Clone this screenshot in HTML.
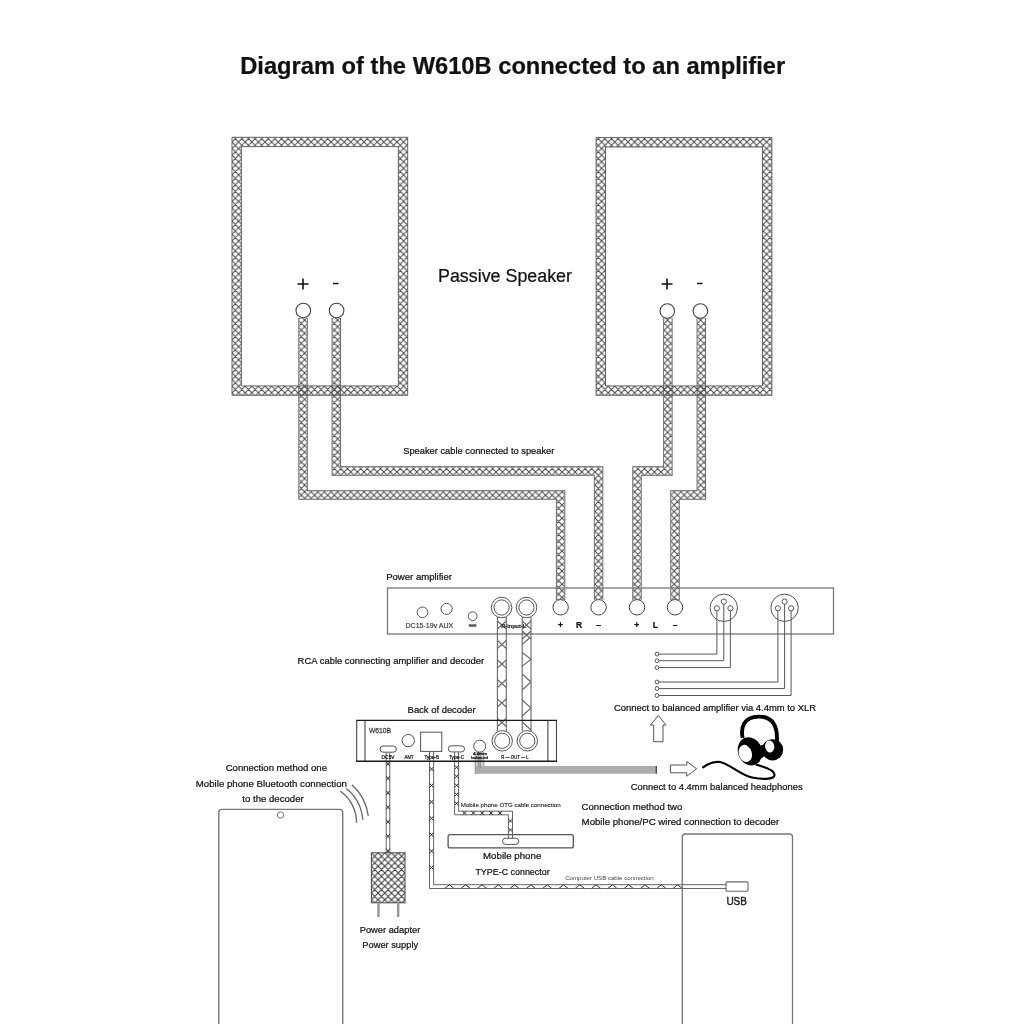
<!DOCTYPE html>
<html><head><meta charset="utf-8">
<style>
html,body{margin:0;padding:0;background:#fff;width:1024px;height:1024px;overflow:hidden}
svg{display:block;will-change:transform}
text{font-family:"Liberation Sans",sans-serif;fill:#111;stroke:#111;stroke-width:0.22px}
</style></head><body>
<svg width="1024" height="1024" viewBox="0 0 1024 1024">
<defs>
<pattern id="hatch" patternUnits="userSpaceOnUse" width="6.6" height="6.6" x="232" y="135.35">
  <path d="M-1,-1 L7.6,7.6 M-1,5.6 L1,7.6 M5.6,-1 L7.6,1 M7.6,-1 L-1,7.6 M-1,1 L1,-1 M5.6,7.6 L7.6,5.6" stroke="#464646" stroke-width="1.0" fill="none"/>
</pattern>
<pattern id="hatch2" patternUnits="userSpaceOnUse" width="6.7" height="6.7" x="371.4" y="852.8">
  <path d="M-1,-1 L7.7,7.7 M-1,5.7 L1,7.7 M5.7,-1 L7.7,1 M7.7,-1 L-1,7.7 M-1,1 L1,-1 M5.7,7.7 L7.7,5.7" stroke="#383838" stroke-width="1.05" fill="none"/>
</pattern>
</defs>
<rect width="1024" height="1024" fill="#fff"/>

<!-- Title -->
<text x="240.2" y="73.9" font-size="23.7" font-weight="700" textLength="545" lengthAdjust="spacingAndGlyphs" style="fill:#111">Diagram of the W610B connected to an amplifier</text>

<!-- speaker cables -->
<g fill="none" stroke-linejoin="miter">
  <path id="c1" d="M303.05,318 V495 H560.6 V600" stroke="#5c5c5c" stroke-width="9.4"/>
  <path d="M303.05,318 V495 H560.6 V600" stroke="#fff" stroke-width="7.6"/>
  <path d="M303.05,318 V495 H560.6 V600" stroke="url(#hatch)" stroke-width="7.6"/>
  <path d="M336.3,318 V471 H598.6 V600" stroke="#5c5c5c" stroke-width="9.4"/>
  <path d="M336.3,318 V471 H598.6 V600" stroke="#fff" stroke-width="7.6"/>
  <path d="M336.3,318 V471 H598.6 V600" stroke="url(#hatch)" stroke-width="7.6"/>
  <path d="M667.9,318 V471 H637 V600" stroke="#5c5c5c" stroke-width="9.4"/>
  <path d="M667.9,318 V471 H637 V600" stroke="#fff" stroke-width="7.6"/>
  <path d="M667.9,318 V471 H637 V600" stroke="url(#hatch)" stroke-width="7.6"/>
  <path d="M701.3,318 V495 H675 V600" stroke="#5c5c5c" stroke-width="9.4"/>
  <path d="M701.3,318 V495 H675 V600" stroke="#fff" stroke-width="7.6"/>
  <path d="M701.3,318 V495 H675 V600" stroke="url(#hatch)" stroke-width="7.6"/>
</g>

<!-- speaker boxes -->
<g>
  <path d="M232,137.3 H407.7 V395.3 H232 Z M241.4,146.6 V385.9 H398.3 V146.6 Z" fill="url(#hatch)" fill-rule="evenodd" stroke="#555" stroke-width="0.9"/>
  <path d="M596.1,137.6 H771.9 V395.3 H596.1 Z M605.5,147 V385.9 H762.5 V147 Z" fill="url(#hatch)" fill-rule="evenodd" stroke="#555" stroke-width="0.9"/>
</g>
<g fill="#fff" stroke="#444" stroke-width="1.1">
  <circle cx="303.3" cy="310.5" r="7.3"/>
  <circle cx="336.6" cy="310.5" r="7.3"/>
  <circle cx="667.3" cy="311" r="7.3"/>
  <circle cx="700.4" cy="311" r="7.3"/>
</g>
<g stroke="#111" stroke-width="1.6">
  <path d="M297.5,284 H308.5 M303,278.5 V289.5 M333,283.5 H338.5"/>
  <path d="M661.5,284 H672.5 M667,278.5 V289.5 M697,283.5 H702.5"/>
</g>
<text x="438" y="281.7" font-size="18" textLength="134" lengthAdjust="spacingAndGlyphs">Passive Speaker</text>
<text x="403.2" y="454.3" font-size="9.5" textLength="151.2" lengthAdjust="spacingAndGlyphs">Speaker cable connected to speaker</text>

<!-- amplifier -->
<text x="386.2" y="579.8" font-size="9.5" textLength="65.8" lengthAdjust="spacingAndGlyphs">Power amplifier</text>
<rect x="387.5" y="588" width="446" height="46" fill="none" stroke="#777" stroke-width="1.3"/>
<g fill="#fff" stroke="#555" stroke-width="1">
  <circle cx="422.5" cy="612.3" r="5.3"/>
  <circle cx="446.6" cy="608.9" r="5.6"/>
  <circle cx="472.6" cy="616.2" r="4.4"/>
</g>
<g fill="#fff" stroke="#444" stroke-width="1">
  <circle cx="560.6" cy="607.3" r="7.7"/>
  <circle cx="598.6" cy="607.3" r="7.7"/>
  <circle cx="637" cy="607.3" r="7.7"/>
  <circle cx="675" cy="607.3" r="7.7"/>
</g>
<text x="405.5" y="628" font-size="7" textLength="47.8" lengthAdjust="spacingAndGlyphs" style="fill:#333;stroke:#333;stroke-width:0.15px">DC15-19v AUX</text>
<rect x="468.8" y="624.3" width="7.6" height="2.4" fill="#555"/>
<g style="font-weight:700" font-size="8.5" text-anchor="middle">
  <text x="560.4" y="628">+</text><text x="579" y="628">R</text><text x="598.5" y="628">–</text>
  <text x="636.7" y="628">+</text><text x="655.3" y="628">L</text><text x="675" y="628">–</text>
</g>
<!-- XLR -->
<g fill="none" stroke="#555" stroke-width="1">
  <circle cx="723.8" cy="607.8" r="13.7"/>
  <circle cx="723.8" cy="601.6" r="2.6"/>
  <circle cx="716.9" cy="608.3" r="2.6"/>
  <circle cx="730.4" cy="608.3" r="2.6"/>
  <circle cx="784.6" cy="607.8" r="13.7"/>
  <circle cx="784.6" cy="601.6" r="2.6"/>
  <circle cx="777.9" cy="608.3" r="2.6"/>
  <circle cx="791.1" cy="608.3" r="2.6"/>
  <path d="M716.9,610.9 V654.1 H658.9 M723.8,604.2 V660.7 H658.9 M730.4,610.9 V667.6 H658.9"/>
  <path d="M777.9,610.9 V682 H658.9 M784.6,604.2 V688.6 H658.9 M791.1,610.9 V695.5 H658.9"/>
  <circle cx="657" cy="654.1" r="1.9"/><circle cx="657" cy="660.7" r="1.9"/><circle cx="657" cy="667.6" r="1.9"/>
  <circle cx="657" cy="682" r="1.9"/><circle cx="657" cy="688.6" r="1.9"/><circle cx="657" cy="695.5" r="1.9"/>
</g>
<text x="614" y="711" font-size="9.5" textLength="202" lengthAdjust="spacingAndGlyphs">Connect to balanced amplifier via 4.4mm to XLR</text>
<path d="M658.25,715.5 L666,725 H663 V741.7 H653.7 V725 H650.5 Z" fill="#fff" stroke="#555" stroke-width="1"/>

<!-- RCA cables -->
<g fill="none" stroke="#666" stroke-width="1.1">
  <path d="M497.4,617 V731 M506.3,617 V731 M522.2,617 V731 M531,617 V731"/>
  <path d="M497.4,621 L506.3,629 M506.3,621 L497.4,629 M497.4,640.5 L506.3,648.5 M506.3,640.5 L497.4,648.5 M497.4,660 L506.3,668 M506.3,660 L497.4,668 M497.4,679.5 L506.3,687.5 M506.3,679.5 L497.4,687.5 M497.4,699 L506.3,707 M506.3,699 L497.4,707 M497.4,718.5 L506.3,726.5 M506.3,718.5 L497.4,726.5"/>
  <path d="M522.2,621 L531,629 M531,621 L522.2,629 M522.2,631 L531,639 M531,631 L522.2,639 M522.2,644.6 L529.5,638 M522.2,652.5 L531,659.3 L522.2,666.1 M522.2,674 L531,682 M531,682 L522.2,690 M522.2,700 L531,708 L522.2,716 M522.2,722 L531,730"/>
</g>
<g fill="#fff" stroke="#555" stroke-width="1">
  <circle cx="501.6" cy="607.5" r="10.25"/>
  <circle cx="526.5" cy="607.5" r="10.25"/>
</g>
<g fill="none" stroke="#555" stroke-width="1">
  <circle cx="501.6" cy="607.5" r="7.6"/>
  <circle cx="526.5" cy="607.5" r="7.6"/>
</g>
<text x="501.2" y="627.5" font-size="6" textLength="25" lengthAdjust="spacingAndGlyphs" style="fill:#333;font-weight:700">R-input-L</text>
<text x="297.6" y="664.3" font-size="9.5" textLength="186.5" lengthAdjust="spacingAndGlyphs">RCA cable connecting amplifier and decoder</text>

<!-- grey 4.4mm cable -->
<rect x="475.25" y="752" width="8.55" height="21.8" fill="#d4d4d4"/>
<rect x="478.2" y="752" width="2.4" height="21.8" fill="#b0b0b0"/>
<path d="M475.25,766 V773.8 H657 V766 Z" fill="#adadad"/>
<path d="M475.25,752 V773.8 M478.2,752 V768 M480.6,752 V768 M483.8,752 V766" stroke="#888" stroke-width="0.9" fill="none"/>
<path d="M656.3,766 V773.5" stroke="#444" stroke-width="1.3"/>
<path d="M670.4,765 H686.8 V761.5 L696.6,768.75 L686.8,776.2 V772.8 H670.4 Z" fill="#fff" stroke="#555" stroke-width="1"/>

<!-- thin cables -->
<g fill="none" stroke="#555" stroke-width="0.9">
  <path d="M386.2,752.2 V852.8 M389.8,752.2 V852.8"/>
  <path d="M429.5,751.4 V888.5 H726 M433.6,751.4 V884.7 H726"/>
  <path d="M454.6,751.9 V814.8 H508.4 V838.5 M458.6,751.9 V811.2 H512.5 V838.5"/>
</g>
<g fill="none" stroke="#333" stroke-width="1">
  <path d="M386.2,761.6 L389.8,766.0 M389.8,761.6 L386.2,766.0 M386.2,776.1 L389.8,780.5 M389.8,776.1 L386.2,780.5 M386.2,790.6 L389.8,795.0 M389.8,790.6 L386.2,795.0 M386.2,805.1 L389.8,809.5 M389.8,805.1 L386.2,809.5 M386.2,819.6 L389.8,824.0 M389.8,819.6 L386.2,824.0 M386.2,834.1 L389.8,838.5 M389.8,834.1 L386.2,838.5 M386.2,848.6 L389.8,853.0 M389.8,848.6 L386.2,853.0"/>
  <path d="M429.5,766.9 L433.6,771.3 M433.6,766.9 L429.5,771.3 M429.5,783.3 L433.6,787.7 M433.6,783.3 L429.5,787.7 M429.5,799.7 L433.6,804.1 M433.6,799.7 L429.5,804.1 M429.5,816.1 L433.6,820.5 M433.6,816.1 L429.5,820.5 M429.5,832.5 L433.6,836.9 M433.6,832.5 L429.5,836.9 M429.5,848.9 L433.6,853.3 M433.6,848.9 L429.5,853.3 M429.5,865.3 L433.6,869.7 M433.6,865.3 L429.5,869.7"/>
  <path d="M454.6,765.3 L458.6,769.3 M458.6,765.3 L454.6,769.3 M454.6,774.3 L458.6,778.3 M458.6,774.3 L454.6,778.3 M454.6,783.3 L458.6,787.3 M458.6,783.3 L454.6,787.3 M454.6,792.3 L458.6,796.3 M458.6,792.3 L454.6,796.3 M454.6,801.3 L458.6,805.3 M458.6,801.3 L454.6,805.3"/>
  <path d="M462.4,811.2 L466.4,814.8 M466.4,811.2 L462.4,814.8 M471.3,811.2 L475.3,814.8 M475.3,811.2 L471.3,814.8 M480.2,811.2 L484.2,814.8 M484.2,811.2 L480.2,814.8 M489.1,811.2 L493.1,814.8 M493.1,811.2 L489.1,814.8 M498.0,811.2 L502.0,814.8 M502.0,811.2 L498.0,814.8"/>
  <path d="M508.4,819.0 L512.5,823.0 M512.5,819.0 L508.4,823.0 M508.4,827.9 L512.5,831.9 M512.5,827.9 L508.4,831.9"/>
  <path d="M444.9,888.3 L449.4,884.8 L453.9,888.3 M461.2,888.3 L465.7,884.8 L470.2,888.3 M477.5,888.3 L482.0,884.8 L486.5,888.3 M493.8,888.3 L498.3,884.8 L502.8,888.3 M510.1,888.3 L514.6,884.8 L519.1,888.3 M526.4,888.3 L530.9,884.8 L535.4,888.3 M542.7,888.3 L547.2,884.8 L551.7,888.3 M559.0,888.3 L563.5,884.8 L568.0,888.3 M575.3,888.3 L579.8,884.8 L584.3,888.3 M591.6,888.3 L596.1,884.8 L600.6,888.3 M607.9,888.3 L612.4,884.8 L616.9,888.3 M624.2,888.3 L628.7,884.8 L633.2,888.3 M640.5,888.3 L645.0,884.8 L649.5,888.3 M656.8,888.3 L661.3,884.8 L665.8,888.3 M673.1,888.3 L677.6,884.8 L682.1,888.3"/>
</g>
<!-- decoder -->
<text x="407.6" y="712.6" font-size="9.5" textLength="68.1" lengthAdjust="spacingAndGlyphs">Back of decoder</text>
<g fill="none">
  <path d="M356.7,720.4 V761.3 M365,720.4 V761.3 M547.9,720.4 V761.3 M556.5,720.4 V761.3" stroke="#444" stroke-width="1.1"/>
  <path d="M356.2,720.4 H557 M356.2,761.3 H557" stroke="#1a1a1a" stroke-width="1.4"/>
</g>
<text x="369" y="733" font-size="7.5" textLength="22" lengthAdjust="spacingAndGlyphs" style="fill:#444;stroke:#444;stroke-width:0.3px">W610B</text>
<g fill="#fff" stroke="#555" stroke-width="1">
  <circle cx="408.3" cy="740.6" r="6.2"/>
  <rect x="420.6" y="732.2" width="21.2" height="19.2"/>
  <rect x="380" y="746" width="16.4" height="6.2" rx="3.1"/>
  <rect x="448.3" y="745.8" width="16.2" height="6.1" rx="3"/>
  <circle cx="479.7" cy="746.2" r="6"/>
  <circle cx="502.2" cy="740.8" r="10.2"/>
  <circle cx="527.3" cy="740.8" r="10.2"/>
</g>
<g fill="none" stroke="#555" stroke-width="1">
  <circle cx="502.2" cy="740.8" r="7.6"/>
  <circle cx="527.3" cy="740.8" r="7.6"/>
</g>
<g font-size="5" style="fill:#555;stroke:none">
  <text x="381.6" y="759" textLength="13" lengthAdjust="spacingAndGlyphs">DC5V</text>
  <text x="404.6" y="759" textLength="9" lengthAdjust="spacingAndGlyphs">ANT</text>
  <text x="424.5" y="759" textLength="14.5" lengthAdjust="spacingAndGlyphs">Type-B</text>
  <text x="449" y="759" textLength="15" lengthAdjust="spacingAndGlyphs">Type-C</text>
  <text x="501.2" y="759" textLength="27.5" lengthAdjust="spacingAndGlyphs">R — OUT — L</text>
  <text x="473" y="755" font-size="3.5" textLength="14" lengthAdjust="spacingAndGlyphs">4.4mm</text>
  <text x="471.3" y="759" font-size="3.5" textLength="16.7" lengthAdjust="spacingAndGlyphs">balanced</text>
</g>

<text x="460.8" y="807" font-size="6" textLength="99.8" lengthAdjust="spacingAndGlyphs" style="fill:#222;stroke:#222;stroke-width:0.1px">Mobile phone OTG cable connection</text>
<text x="565.2" y="880" font-size="6" textLength="88.5" lengthAdjust="spacingAndGlyphs" style="fill:#444;stroke:none">Computer USB cable connection</text>

<!-- headphones -->
<g fill="none" stroke="#000">
  <path d="M742.6,738 C740.5,727 744,716.8 758.5,716.6 C773.5,716.4 778,727 776.8,743" stroke-width="3.9"/>
  <path d="M703,767.4 C709,763 714,761.5 720,762 C730,764 740,775 752,777.5 C765,780 775,779 774.5,774.5 C774,770 765,767 756.5,764.8" stroke-width="2.1" stroke-linecap="round"/>
</g>
<g fill="#000">
  <ellipse cx="750" cy="751.3" rx="12" ry="14.3" transform="rotate(-20 750 751.3)"/>
  <ellipse cx="772.6" cy="749.8" rx="10.6" ry="10.6"/>
  <path d="M759.5,746 L763.5,744.5 L764.5,756 L760.5,759 Z"/>
</g>
<g fill="#fff">
  <ellipse cx="745.3" cy="753.5" rx="6.5" ry="8.8" transform="rotate(-18 745.3 753.5)"/>
  <ellipse cx="769.7" cy="746.5" rx="4.6" ry="6" transform="rotate(-10 769.7 746.5)"/>
</g>
<text x="630.7" y="789.5" font-size="9.5" textLength="171.9" lengthAdjust="spacingAndGlyphs">Connect to 4.4mm balanced headphones</text>

<!-- left phone -->
<text x="225.7" y="771.1" font-size="9.5" textLength="101.3" lengthAdjust="spacingAndGlyphs">Connection method one</text>
<text x="195.8" y="786.9" font-size="9.5" textLength="151.1" lengthAdjust="spacingAndGlyphs">Mobile phone Bluetooth connection</text>
<text x="242.3" y="802.3" font-size="9.5" textLength="61.4" lengthAdjust="spacingAndGlyphs">to the decoder</text>
<rect x="218.8" y="809.4" width="123.9" height="240" rx="3" fill="none" stroke="#777" stroke-width="1.4"/>
<circle cx="280.6" cy="815" r="3.2" fill="none" stroke="#777" stroke-width="1"/>
<g fill="none" stroke="#666" stroke-width="1.3">
  <path d="M340.2,791 A39,39 0 0 1 356.6,822.8"/>
  <path d="M346.4,788.4 A45,45 0 0 1 362.8,819.7"/>
  <path d="M351.9,784.8 A51,51 0 0 1 368.3,816"/>
</g>

<!-- power adapter -->
<rect x="371.4" y="852.8" width="33.6" height="50" fill="url(#hatch2)" stroke="#444" stroke-width="1"/>
<rect x="377.2" y="903" width="2.5" height="14" fill="#999"/>
<rect x="396.9" y="903" width="2.5" height="14" fill="#999"/>
<text x="359.7" y="932.6" font-size="9.5" textLength="60.6" lengthAdjust="spacingAndGlyphs">Power adapter</text>
<text x="362.3" y="948.4" font-size="9.5" textLength="55.8" lengthAdjust="spacingAndGlyphs">Power supply</text>

<!-- mobile phone bar -->
<rect x="448.1" y="834.7" width="125.2" height="13.2" rx="2" fill="none" stroke="#555" stroke-width="1.3"/>
<rect x="502.6" y="838.2" width="16.2" height="6.2" rx="3" fill="none" stroke="#555" stroke-width="1"/>
<text x="483" y="859.3" font-size="9.5" textLength="58.3" lengthAdjust="spacingAndGlyphs">Mobile phone</text>
<text x="475.4" y="874.5" font-size="9.5" textLength="74.3" lengthAdjust="spacingAndGlyphs">TYPE-C connector</text>

<text x="581.6" y="810" font-size="9.5" textLength="100.7" lengthAdjust="spacingAndGlyphs">Connection method two</text>
<text x="581.6" y="825" font-size="9.5" textLength="197.5" lengthAdjust="spacingAndGlyphs">Mobile phone/PC wired connection to decoder</text>

<!-- PC -->
<rect x="682.3" y="834" width="110.2" height="240" rx="3" fill="none" stroke="#777" stroke-width="1.3"/>
<rect x="726" y="881.9" width="22" height="9.3" rx="1" fill="#fff" stroke="#666" stroke-width="1.1"/>
<text x="726.4" y="905.4" font-size="11.5" textLength="20.6" lengthAdjust="spacingAndGlyphs" style="fill:#222;stroke:#222;stroke-width:0.45px">USB</text>
</svg>
</body></html>
